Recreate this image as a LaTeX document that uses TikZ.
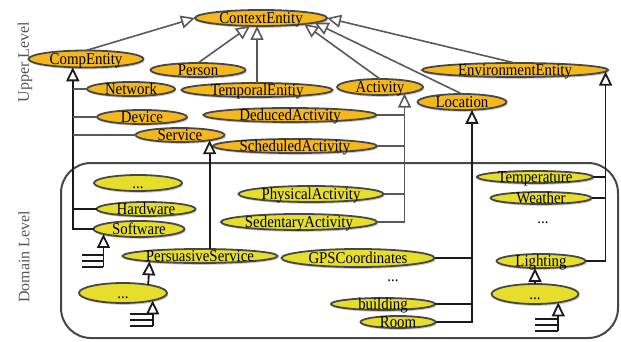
\documentclass[tikz,border=0pt]{standalone}
\usepackage{fontspec}
\setmainfont{Liberation Serif}
\newfontfamily\entityfont{Liberation Serif}[FakeStretch=0.9]
\usetikzlibrary{arrows.meta,shapes.geometric,shadows,calc}
\definecolor{upfill}{HTML}{F5B81C}
\definecolor{domfill}{HTML}{E6DE2A}
\definecolor{rim}{HTML}{474747}
\definecolor{darkline}{HTML}{1A1A1A}
\definecolor{midline}{HTML}{595959}
\definecolor{lvltext}{HTML}{555555}

\begin{document}
\begin{tikzpicture}[x=1pt,y=-1pt,
  ent/.style 2 args={ellipse, draw=rim, line width=1.8pt, inner sep=0pt, outer sep=0pt,
    minimum width=#1pt, minimum height=#2pt, text height=3pt, text depth=3pt,
    font=\entityfont\fontsize{16.5}{16.5}\selectfont,
    execute at begin node={\hbox to 0pt\bgroup\hss\lower5.5pt\hbox\bgroup},
    execute at end node={\egroup\hss\egroup},
    drop shadow={shadow xshift=1.2pt, shadow yshift=-1.8pt, opacity=0.22, fill=black}},
  up/.style 2 args={ent={#1}{#2}, fill=upfill},
  dom/.style 2 args={ent={#1}{#2}, fill=domfill},
  dline/.style={draw=darkline, line width=1.8pt},
  gline/.style={draw=midline, line width=1.6pt},
  gen/.style={-{Triangle[length=14pt,width=13pt,fill=white]}},
  lvl/.style={text=lvltext, font=\fontsize{16}{16}\selectfont, rotate=90},
  gap/.style={font=\entityfont\fontsize{16.5}{16.5}\selectfont, anchor=base}]

\useasboundingbox (0,0) rectangle (621,342);

% domain-level frame
\draw[draw=rim, line width=2pt, rounded corners=30pt] (61,163) rectangle (618,338);

% level captions
\node[lvl] (upperlbl) at (25,62) {Upper Level};
\node[lvl] (domainlbl) at (24,257) {Domain Level};

% upper-level entities
\node[up={132}{16}] (ce) at (261,18) {ContextEntity};
\node[up={115}{17}] (comp) at (86,59) {CompEntity};
\node[up={95}{14}] (person) at (198,70) {Person};
\node[up={88}{14}] (network) at (131,89) {Network};
\node[up={151}{14}] (temporal) at (257,90) {TemporalEnitiy};
\node[up={90}{14}] (device) at (142,117) {Device};
\node[up={173}{14}] (deduced) at (290,115) {DeducedActivity};
\node[up={89}{14}] (service) at (180,135) {Service};
\node[up={164}{14}] (scheduled) at (295,146) {ScheduledActivity};
\node[up={86}{16}] (activity) at (380,87) {Activity};
\node[up={89}{16}] (location) at (462,102) {Location};
\node[up={186}{14}] (env) at (515,70) {EnvironmentEntity};

% domain-level entities
\node[dom={88}{16}] (d1) at (138,183) {...};
\node[dom={99}{14}] (hardware) at (146,209) {Hardware};
\node[dom={91}{16}] (software) at (139,229) {Software};
\node[dom={155}{14}] (persuasive) at (200,256) {PersuasiveService};
\node[dom={88}{20}] (d2) at (123,293) {...};
\node[dom={145}{16}] (physical) at (311,194) {PhysicalActivity};
\node[dom={156}{16}] (sedentary) at (299,222) {SedentaryActivity};
\node[dom={153}{18}] (gps) at (358,258) {GPSCoordinates};
\node[dom={104}{12}] (building) at (383,304) {building};
\node[dom={75}{12}] (room) at (398,322) {Room};
\node[dom={116}{12}] (temperature) at (535,177) {Temperature};
\node[dom={101}{12}] (weather) at (541,198) {Weather};
\node[dom={89}{14}] (lighting) at (541,261) {Lighting};
\node[dom={87}{20}] (d3) at (535,294) {...};
\node[gap] (gapA) at (393,281) {...};
\node[gap] (gapB) at (543,223) {...};

% generalisations into ContextEntity
\draw[gline,gen] (comp.north) -- (ce.west);
\draw[gline,gen] (person.north) -- (ce.216);
\draw[gline,gen] (temporal.north) -- (temporal.north |- ce.south);
\draw[gline,gen] (activity.north) -- (ce.352);
\draw[gline,gen] (location.north) -- (ce.355);
\draw[gline,gen] (env.north) -- (ce.east);

% CompEntity trunk
\draw[dline,gen] (software.west) -| (comp.212);
\draw[dline] (hardware.west) -- (hardware.west -| comp.212);
\draw[gline] (network.west) -- (network.west -| comp.212);
\draw[gline] (device.west) -- (device.west -| comp.212);
\draw[gline] (service.west) -- (service.west -| comp.212);

% Activity trunk
\draw[gline,gen] (sedentary.east) -| (activity.345);
\draw[gline] (physical.east) -- (physical.east -| activity.345);
\draw[gline] (deduced.east) -- (deduced.east -| activity.345);
\draw[gline] (scheduled.east) -- (scheduled.east -| activity.345);

% Service specialisation
\draw[dline,gen] (persuasive.north -| service.350) -- (service.350);
\draw[dline,gen] (d2.18) -- (persuasive.186);

% Location trunk
\draw[dline,gen] (room.east) -| (location.322);
\draw[dline] (building.east) -- (building.east -| location.322);
\draw[dline] (gps.east) -- (gps.east -| location.322);

% EnvironmentEntity trunk
\draw[dline,gen] (lighting.east) -| (env.-1.5);
\draw[dline] (temperature.east) -- (temperature.east -| env.-1.5);
\draw[dline] (weather.east) -- (weather.east -| env.-1.5);
\draw[dline,gen] (d3.north) -- (d3.north |- lighting.south);

% elided further subclasses
\coordinate (swfoot) at ($(software.188)+(0,33)$);
\coordinate (dtwofoot) at ($(d2.-14)+(0,26)$);
\coordinate (dthreefoot) at ($(d3.-20)+(0,28.5)$);
\draw[dline,gen] (swfoot) -- (software.188);
\draw[dline] (swfoot) -- ++(-21,0) ($(swfoot)+(0,-6)$) -- ++(-21,0) ($(swfoot)+(0,-12)$) -- ++(-21,0);
\draw[dline,gen] (dtwofoot) -- (d2.-14);
\draw[dline] (dtwofoot) -- ++(-23,0) ($(dtwofoot)+(0,-6)$) -- ++(-23,0) ($(dtwofoot)+(0,-12)$) -- ++(-23,0);
\draw[dline,gen] (dthreefoot) -- (d3.-20);
\draw[dline] (dthreefoot) -- ++(-23,0) ($(dthreefoot)+(0,-6)$) -- ++(-23,0) ($(dthreefoot)+(0,-12)$) -- ++(-23,0);

\end{tikzpicture}
\end{document}
